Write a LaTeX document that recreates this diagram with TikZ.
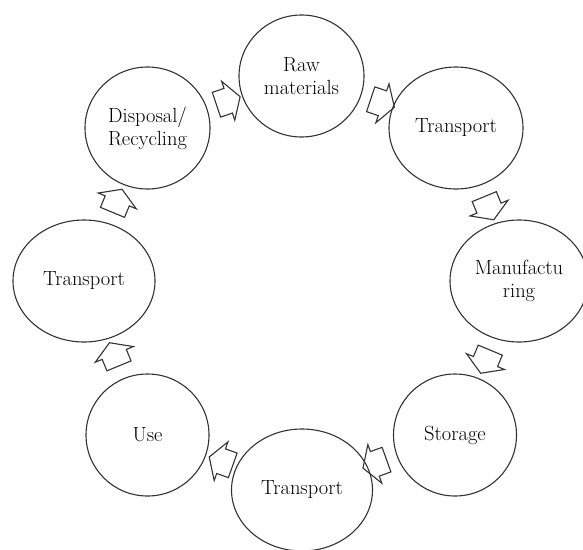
\documentclass[tikz,border=0pt]{standalone}
\usetikzlibrary{shapes.geometric,shapes.arrows}

\tikzset{
  stage/.style={draw=black!80, line width=1.1pt, ellipse, minimum height=122pt,
    inner sep=0pt, align=center, font=\fontsize{20.5}{23}\selectfont},
  flow/.style={draw=black!80, line width=1.1pt, single arrow, inner xsep=0pt,
    inner ysep=12.5pt, single arrow head extend=7.5pt, single arrow tip angle=117,
    minimum height=25pt, sloped, allow upside down}
}

\begin{document}
\begin{tikzpicture}[x=1pt, y=1pt]

        % the page
        \useasboundingbox (0,0) rectangle (583,-549);

        % the stages of the cycle
        \node[stage, minimum width=125pt] (raw) at (301.5,-76) {Raw\\materials};
        \node[stage, minimum width=134pt] (transA) at (456,-128) {Transport};
        \node[stage, minimum width=138pt] (manuf) at (519,-281) {Manufactu\\ring};
        \node[stage, minimum width=123pt] (store) at (455,-435) {Storage};
        \node[stage, minimum width=141pt] (transB) at (302,-490) {Transport};
        \node[stage, minimum width=123pt] (use) at (147.5,-435) {Use};
        \node[stage, minimum width=142pt] (transC) at (84,-281) {Transport};
        \node[stage, minimum width=125pt] (disp) at (147.5,-128) {Disposal/\\Recycling};

        % the block arrows between the stages
        \foreach \a/\b in {disp/raw, raw/transA, transA/manuf, manuf/store,
                           store/transB, transB/use, use/transC, transC/disp}
        \path (\a.center) -- node[flow] {} (\b.center);

\end{tikzpicture}
\end{document}
